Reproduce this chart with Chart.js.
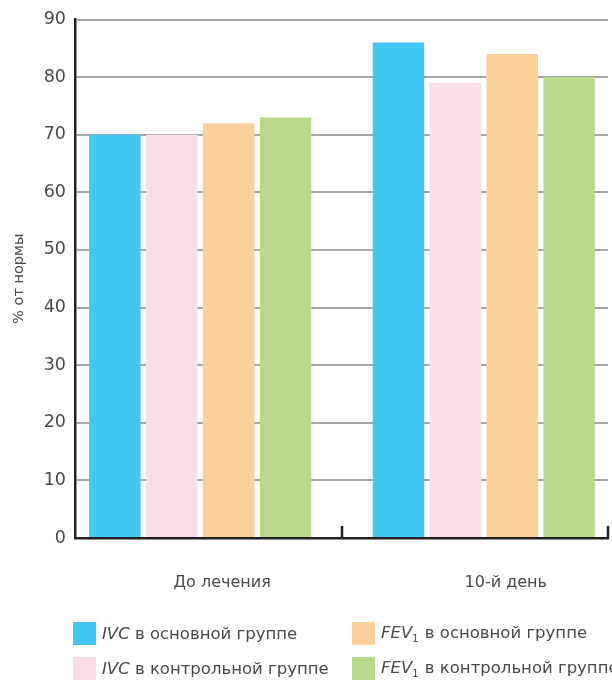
<!DOCTYPE html>
<html>
<head>
<meta charset="utf-8">
<script src="https://cdn.jsdelivr.net/npm/chart.js@4/dist/chart.umd.min.js"></script>
<style>
  html, body { margin: 0; padding: 0; background: #fff; overflow: hidden; }
  #wrap { position: relative; width: 612px; height: 681px; }
  #c { position: absolute; left: 0; top: 0; }
  .item { position: absolute; display: flex; align-items: center; white-space: nowrap;
          font-family: "DejaVu Sans", sans-serif; font-size: 16.5px; color: #4a4a4a; }
  .sw { width: 23px; height: 23px; margin-right: 6px; flex: none; }
  .item sub { font-size: 10px; vertical-align: -4px; margin-right: 1px; }
</style>
</head>
<body>
<div id="wrap">
  <canvas id="c" width="612" height="681"></canvas>
  <div id="legend"></div>
</div>
<script>
// Spirometry indices, % of normal, before treatment and on day 10
const categories = ['До лечения', '10-й день'];
const ivcMain    = [70, 86];
const ivcControl = [70, 79];
const fevMain    = [72, 84];
const fevControl = [73, 80];
const seriesNames = ['IVC в основной группе', 'IVC в контрольной группе',
                     'FEV1 в основной группе', 'FEV1 в контрольной группе'];
const seriesColors = ['#42C7F3', '#F9DDE8', '#FBD19B', '#B9DA8A'];
const yMin = 0, yMax = 90, yStep = 10;
const axisTitle = '% от нормы';

const seriesValues = [ivcMain, ivcControl, fevMain, fevControl];
const catIndex = categories.map((_, i) => i);

const datasets = seriesValues.map((vals, s) => ({
  label: seriesNames[s],
  data: vals.map((v, i) => ({ x: catIndex[i], y: v })),
  backgroundColor: seriesColors[s],
  borderWidth: 0,
  categoryPercentage: 0.8025,
  barPercentage: 0.905
}));

// short upward ticks on the category axis at group boundaries and at its end
const boundaryTicks = {
  id: 'boundaryTicks',
  afterDatasetsDraw(chart) {
    const { ctx, chartArea, scales: { x } } = chart;
    const marks = [];
    for (let i = 0; i < catIndex.length - 1; i++) {
      marks.push(x.getPixelForValue((catIndex[i] + catIndex[i + 1]) / 2));
    }
    marks.push(chartArea.right);
    ctx.save();
    ctx.strokeStyle = '#222';
    ctx.lineWidth = 2.5;
    marks.forEach(px => {
      ctx.beginPath();
      ctx.moveTo(px, chartArea.bottom + 1);
      ctx.lineTo(px, chartArea.bottom - 12);
      ctx.stroke();
    });
    ctx.restore();
  }
};

new Chart(document.getElementById('c'), {
  type: 'bar',
  data: { datasets },
  plugins: [boundaryTicks],
  options: {
    responsive: false,
    devicePixelRatio: 1,
    animation: false,
    layout: { padding: { top: 18, right: 4, left: 0, bottom: 0 } },
    plugins: { legend: { display: false }, tooltip: { enabled: false } },
    scales: {
      x: {
        type: 'linear',
        offset: false,
        min: -0.4415,
        max: 1.438,
        afterFit(s) { s.height = 143; },
        afterBuildTicks(s) { s.ticks = catIndex.map(v => ({ value: v })); },
        grid: { display: false, offset: false },
        border: { display: true, color: '#222', width: 2.5 },
        ticks: {
          autoSkip: false,
          maxRotation: 0,
          padding: 27,
          labelOffset: 22,
          color: '#4a4a4a',
          font: { family: 'DejaVu Sans', size: 16 },
          callback: v => categories[v]
        }
      },
      y: {
        min: yMin,
        max: yMax,
        afterFit(s) { s.width = 75; },
        ticks: {
          stepSize: yStep,
          padding: 9,
          color: '#4a4a4a',
          font: { family: 'DejaVu Sans', size: 17.5 }
        },
        grid: {
          drawTicks: false,
          lineWidth: 2,
          color: ctx => (ctx.tick && ctx.tick.value === yMin) ? 'rgba(0,0,0,0)' : '#a6a6a6'
        },
        border: { display: true, color: '#222', width: 2.5 },
        title: {
          display: true,
          text: axisTitle,
          color: '#4a4a4a',
          font: { family: 'DejaVu Sans', size: 14.5 },
          padding: { top: 11, bottom: 0 }
        }
      }
    }
  }
});

// two-column legend: swatch + name, first word italic, trailing index digit as subscript
const legendSlots = [
  { left: 73,  top: 622 },
  { left: 73,  top: 657 },
  { left: 352, top: 622 },
  { left: 352, top: 657 }
];
const legend = document.getElementById('legend');
seriesNames.forEach((name, s) => {
  const item = document.createElement('div');
  item.className = 'item';
  item.style.left = legendSlots[s].left + 'px';
  item.style.top = legendSlots[s].top + 'px';
  const sw = document.createElement('span');
  sw.className = 'sw';
  sw.style.background = seriesColors[s];
  item.appendChild(sw);
  const sp = name.indexOf(' ');
  const first = name.slice(0, sp);
  const rest = name.slice(sp);
  const m = first.match(/^(\D+)(\d*)$/);
  const label = document.createElement('span');
  const it = document.createElement('i');
  it.textContent = m[1];
  label.appendChild(it);
  if (m[2]) {
    const sub = document.createElement('sub');
    sub.textContent = m[2];
    label.appendChild(sub);
  }
  label.appendChild(document.createTextNode(rest));
  item.appendChild(label);
  legend.appendChild(item);
});
</script>
</body>
</html>
